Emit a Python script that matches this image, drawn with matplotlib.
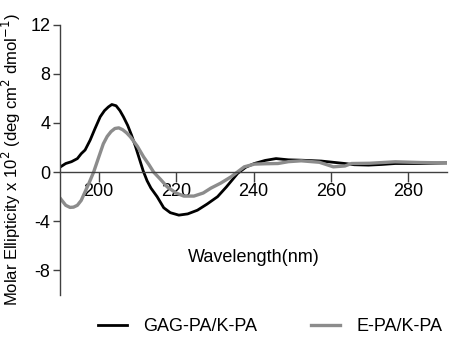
import matplotlib.pyplot as plt

plt.rcParams['font.family'] = ['Liberation Sans', 'DejaVu Sans']
plt.rcParams['axes.unicode_minus'] = False

# ---------------- dados ----------------
gag_wl = [190, 191.5, 193, 194.5, 195.5, 196.5, 197.8, 199, 200.4, 201.5, 202.5, 203.4, 204.5,
          205.5, 206.4, 207.5, 208.5, 209.5, 210.5, 211.5, 212.5, 213.5, 215.1, 216.8, 218.5,
          220.7, 223, 225.5, 228, 230.7, 233, 235.9, 238, 240.2, 243, 245.8, 249, 252.3,
          257.5, 263.6, 266, 269.7, 273, 276.6, 283, 290]
gag_me = [0.4, 0.7, 0.85, 1.1, 1.5, 1.8, 2.6, 3.5, 4.5, 5.0, 5.3, 5.5, 5.4,
          5.0, 4.5, 3.8, 3.0, 2.1, 1.1, 0.1, -0.7, -1.3, -2.0, -2.9, -3.3,
          -3.5, -3.4, -3.1, -2.6, -2.0, -1.2, -0.1, 0.4, 0.7, 0.95, 1.1, 1.0, 0.97,
          0.9, 0.7, 0.6, 0.57, 0.62, 0.7, 0.7, 0.75]

epa_wl = [190, 191.5, 192.6, 193.5, 194.5, 195.5, 196.5, 197.5, 198.7, 200, 201.2, 202.2,
          203.2, 204.2, 205.2, 206.2, 207.2, 208.2, 210, 211.6, 213, 214.2, 216, 217.7, 220,
          222, 224.6, 227, 229, 231.5, 234.2, 236, 237.6, 240.2, 243, 246.3, 249, 252.3,
          257, 260.6, 263.6, 265.3, 270, 276.6, 283, 290]
epa_me = [-2.1, -2.7, -2.87, -2.85, -2.7, -2.3, -1.6, -0.9, 0.0, 1.2, 2.3, 2.9,
          3.3, 3.55, 3.6, 3.45, 3.2, 2.87, 2.1, 1.24, 0.6, 0.0, -0.6, -1.2, -1.7,
          -1.95, -1.95, -1.7, -1.3, -0.9, -0.38, 0.05, 0.43, 0.65, 0.68, 0.7, 0.85, 0.92,
          0.8, 0.43, 0.5, 0.7, 0.72, 0.84, 0.78, 0.75]

x_ticks = [200, 220, 240, 260, 280]
y_ticks = [-8, -4, 0, 4, 8, 12]

# ---------------- grafico ----------------
fig = plt.figure(figsize=(4.54, 3.62), dpi=100)
ax = fig.add_axes([0.132, 0.185, 0.853, 0.747])

ax.plot(gag_wl, gag_me, color='black', lw=2.0, label='GAG-PA/K-PA')
ax.plot(epa_wl, epa_me, color='#8c8c8c', lw=2.4, label='E-PA/K-PA')

ax.set_xlim(190, 290)
ax.set_ylim(-10, 12)
ax.set_xticks(x_ticks)
ax.set_yticks(y_ticks)

ax.spines['top'].set_visible(False)
ax.spines['right'].set_visible(False)
ax.spines['bottom'].set_position(('data', 0))
for s in ['left', 'bottom']:
    ax.spines[s].set_color('#404040')
    ax.spines[s].set_linewidth(1.0)

ax.tick_params(axis='x', direction='out', length=7, width=1, color='#404040',
               labelsize=13, pad=1)
ax.tick_params(axis='y', direction='out', length=5, width=1, color='#404040',
               labelsize=13, pad=2)

ax.text(0.5, 0.137, 'Wavelength(nm)', transform=ax.transAxes, ha='center',
        va='center', fontsize=13)
ax.set_ylabel('Molar Ellipticity x 10$^2$ (deg cm$^2$ dmol$^{-1}$)', fontsize=12)
ax.yaxis.set_label_coords(-0.095, 0.5)

fig.legend(loc='center', bbox_to_anchor=(0.595, 0.097), ncol=2, frameon=False,
           fontsize=13, handlelength=1.6, handletextpad=0.9, columnspacing=3.0)

fig.savefig('out.png', dpi=100)
